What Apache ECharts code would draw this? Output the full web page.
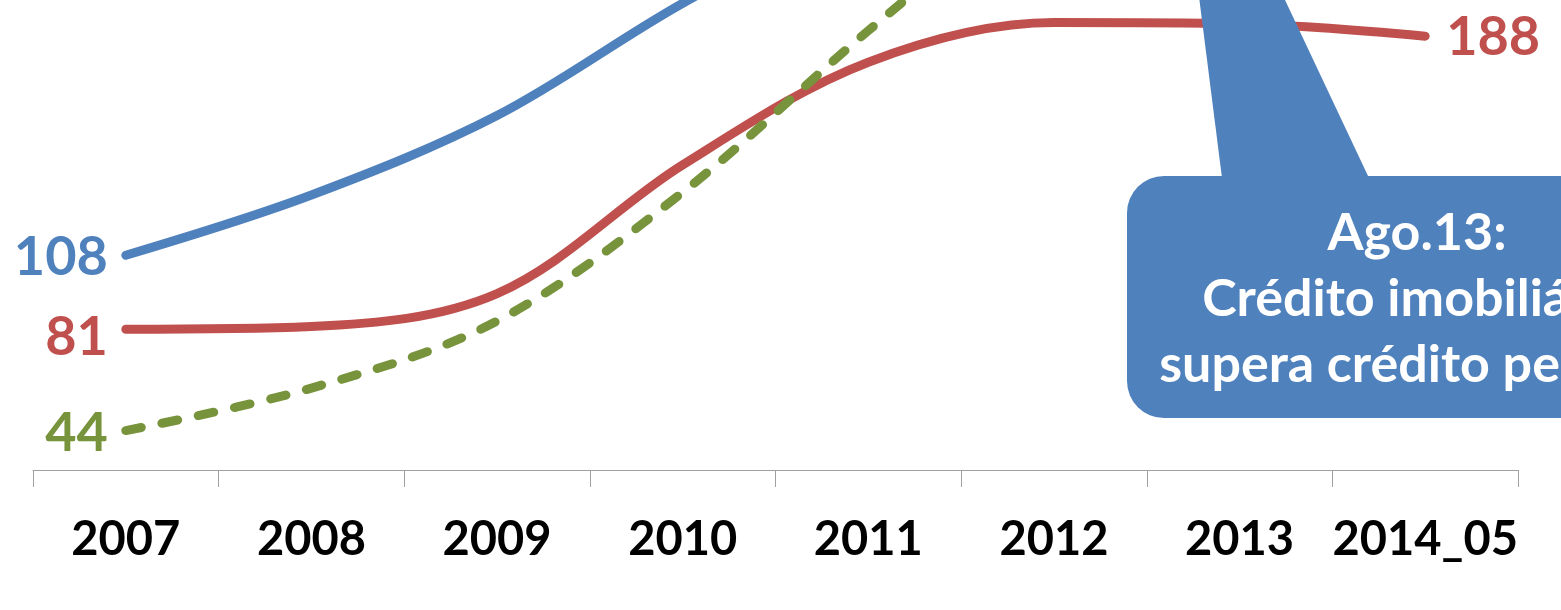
<!DOCTYPE html>
<html>
<head>
<meta charset="utf-8">
<script src="https://cdn.jsdelivr.net/npm/echarts@6/dist/echarts.min.js"></script>
<style>
html,body{margin:0;padding:0;background:#fff;}
#chart{width:1561px;height:610px;}
</style>
</head>
<body>
<div id="chart"></div>
<script>
const categories = ['2007', '2008', '2009', '2010', '2011', '2012', '2013', '2014_05'];
const serieAzul = [108, 130, 159, 200, 235, 265, 290, 300];
const serieVermelha = [81, 82, 94, 141, 178.5, 193, 192.5, 188];
const serieVerde = [44, 59.5, 84, 131, 190, 245, 295, 310];
const calloutLines = ['Ago.13:', 'Crédito imobiliário', 'supera crédito pessoal'];

const FONT = 'Lato, "Open Sans", sans-serif';
const BLUE = '#4F81BD', RED = '#C0504D', GREEN = '#77933C';
const SMOOTH = 0.34;

function withLabels(values, color, labels) {
  return values.map((v, i) => {
    const l = labels[i];
    if (!l) return v;
    return {
      value: v,
      label: {
        show: true,
        position: l.pos,
        distance: l.dist,
        offset: l.offset,
        color: color,
        fontFamily: FONT,
        fontWeight: 'bold',
        fontSize: 54,
        formatter: '{c}'
      }
    };
  });
}

function lineSeries(name, values, color, labels, dashed) {
  return {
    name: name, type: 'line', smooth: SMOOTH, clip: false,
    symbol: 'circle', symbolSize: 0.01, showSymbol: true, showAllSymbol: true,
    lineStyle: Object.assign({color: color, width: 9, cap: 'round', join: 'round'},
      dashed ? {type: [16, 21]} : {}),
    itemStyle: {color: color},
    emphasis: {disabled: true},
    data: withLabels(values, color, labels)
  };
}

const chart = echarts.init(document.getElementById('chart'), null, {renderer: 'canvas'});
const option = {
  animation: false,
  grid: {left: 33, right: 43, top: 0, bottom: 140, containLabel: false},
  xAxis: {
    type: 'category',
    data: categories,
    boundaryGap: true,
    axisLine: {show: true, lineStyle: {color: '#A0A0A0', width: 1}},
    axisTick: {show: true, interval: 0, length: 17, lineStyle: {color: '#A0A0A0', width: 1}},
    axisLabel: {
      interval: 0,
      color: '#000', fontFamily: FONT, fontWeight: 'bold', fontSize: 47,
      lineHeight: 47, margin: 46
    },
    splitLine: {show: false}
  },
  yAxis: {
    type: 'value', show: false, min: 29.6, max: 201.2,
    splitLine: {show: false}
  },
  series: [
    lineSeries('Azul', serieAzul, BLUE, {0: {pos: 'left', dist: 18, offset: [0, 2]}}, false),
    lineSeries('Vermelha', serieVermelha, RED, {
      0: {pos: 'left', dist: 18, offset: [0, 8]},
      7: {pos: 'right', dist: 21, offset: [0, 1]}
    }, false),
    lineSeries('Verde', serieVerde, GREEN, {0: {pos: 'left', dist: 18, offset: [0, 3]}}, true)
  ],
  graphic: [
    {
      type: 'polygon', z: 100,
      shape: {points: [[1168, -248], [1222, 178], [1369, 178]]},
      style: {fill: BLUE}
    },
    {
      type: 'rect', z: 100,
      shape: {x: 1127, y: 176, width: 582, height: 242, r: 37},
      style: {fill: BLUE}
    },
    {
      type: 'text', z: 101, x: 1417, y: 233,
      style: {text: calloutLines[0], fill: '#fff', font: 'bold 52px ' + FONT, textAlign: 'center', textVerticalAlign: 'middle'}
    },
    {
      type: 'text', z: 101, x: 1417, y: 299,
      style: {text: calloutLines[1], fill: '#fff', font: 'bold 52px ' + FONT, textAlign: 'center', textVerticalAlign: 'middle'}
    },
    {
      type: 'text', z: 101, x: 1417, y: 365,
      style: {text: calloutLines[2], fill: '#fff', font: 'bold 52px ' + FONT, textAlign: 'center', textVerticalAlign: 'middle'}
    }
  ]
};
chart.setOption(option);
</script>
</body>
</html>
